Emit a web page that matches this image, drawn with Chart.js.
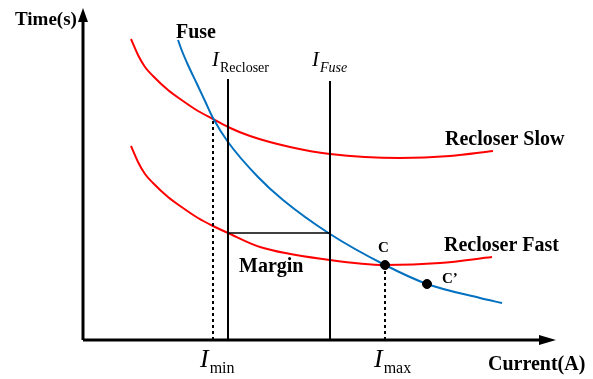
<!DOCTYPE html>
<html>
<head>
<meta charset="utf-8">
<script src="https://cdn.jsdelivr.net/npm/chart.js@4/dist/chart.umd.min.js"></script>
<style>
  html, body { margin: 0; padding: 0; background: #fff; }
  #wrap { width: 593px; height: 379px; }
</style>
</head>
<body>
<div id="wrap"><canvas id="tcc"></canvas></div>
<script>
// curve points (current, time), arbitrary units
var fuseCurve = [[95,300],[99,289],[105,275],[114,256],[122,239],[130,222],[145,198],[175,163],[200,140],[247,106],[302,75],[344,56],[397,42],[419,37]];
var slowCurve = [[48,301],[55,285],[62,273],[70,264],[85,250],[100,239],[115,229],[130,221],[145,213],[167,204],[207,193],[247,186],[317,182],[367,184],[410,189]];
var fastCurve = [[48,194],[55,178],[62,166],[70,157],[85,143],[100,132],[115,122],[130,114],[145,107],[177,93],[247,80],[302,75],[357,77],[409,83]];

// settings on the current axis
var iMin = 130, iRecloser = 145, iFuse = 247, iMax = 302;
var marginTime = 107;
var pointC = [302,75], pointC2 = [344,56];
var xAxisEnd = 473, yAxisEnd = 332;

function pts(arr){
    return arr.map(function(p){ return {x: p[0], y: p[1]}; });
}

var serif = "'Liberation Serif', 'Times New Roman', serif";

var labels = [
    {text: 'Time(s)', x: -68, y: 315, font: 'bold 19px ' + serif},
    {text: 'Fuse', x: 93, y: 302, font: 'bold 20px ' + serif},
    {text: 'Recloser Slow', x: 362, y: 195, font: 'bold 20px ' + serif},
    {text: 'Recloser Fast', x: 361, y: 89, font: 'bold 20px ' + serif},
    {text: 'Margin', x: 156, y: 68, font: 'bold 20px ' + serif},
    {text: 'C', x: 295, y: 88, font: 'bold 15px ' + serif},
    {text: 'C\u2019', x: 359, y: 57, font: 'bold 15px ' + serif},
    {text: 'Current(A)', x: 405, y: -30, font: 'bold 20px ' + serif}
];
var subLabels = [
    {main: 'I', sub: 'Recloser', x: 129, y: 274, mainFont: 'italic 21px ' + serif, subFont: '14px ' + serif},
    {main: 'I', sub: 'Fuse', x: 229, y: 274, mainFont: 'italic 21px ' + serif, subFont: 'italic 14px ' + serif},
    {main: 'I', sub: 'min', x: 117, y: -27, mainFont: 'italic 26px ' + serif, subFont: '16px ' + serif},
    {main: 'I', sub: 'max', x: 291, y: -27, mainFont: 'italic 26px ' + serif, subFont: '16px ' + serif}
];

var textPlugin = {
    id: 'textPlugin',
    afterDatasetsDraw: function(chart){
        var ctx = chart.ctx;
        var xs = chart.scales.x, ys = chart.scales.y;
        ctx.save();
        ctx.fillStyle = '#000';
        // arrow heads
        var ox = xs.getPixelForValue(0), oy = ys.getPixelForValue(0);
        var tx = xs.getPixelForValue(xAxisEnd);
        ctx.beginPath();
        ctx.moveTo(tx, oy);
        ctx.lineTo(tx - 17, oy - 5);
        ctx.lineTo(tx - 17, oy + 5);
        ctx.closePath();
        ctx.fill();
        var ty = ys.getPixelForValue(yAxisEnd);
        ctx.beginPath();
        ctx.moveTo(ox, ty);
        ctx.lineTo(ox - 5, ty + 14);
        ctx.lineTo(ox + 5, ty + 14);
        ctx.closePath();
        ctx.fill();

        ctx.textBaseline = 'alphabetic';
        ctx.textAlign = 'left';
        labels.forEach(function(l){
            ctx.font = l.font;
            ctx.fillText(l.text, xs.getPixelForValue(l.x), ys.getPixelForValue(l.y));
        });
        subLabels.forEach(function(l){
            var px = xs.getPixelForValue(l.x), py = ys.getPixelForValue(l.y);
            ctx.font = l.mainFont;
            ctx.fillText(l.main, px, py);
            var w = ctx.measureText(l.main).width;
            ctx.font = l.subFont;
            ctx.fillText(l.sub, px + w + 1, py + 6);
        });
        ctx.restore();
    }
};

function lineSet(data, color, width, dash){
    return {
        data: data,
        borderColor: color,
        borderWidth: width,
        borderDash: dash || [],
        pointRadius: 0,
        showLine: true,
        fill: false,
        clip: false
    };
}

var canvas = document.getElementById('tcc').getContext('2d');
var chart = new Chart(canvas, {
    type: 'scatter',
    data: {
        datasets: [
            // marked points
            {data: [{x: pointC[0], y: pointC[1]}, {x: pointC2[0], y: pointC2[1]}], backgroundColor: '#000', borderColor: '#000', pointRadius: 4.5, showLine: false, clip: false},
            lineSet([{x: 0, y: 0}, {x: xAxisEnd - 10, y: 0}], '#000', 3),
            lineSet([{x: 0, y: 0}, {x: 0, y: yAxisEnd - 10}], '#000', 3),
            lineSet([{x: iRecloser, y: 0}, {x: iRecloser, y: 261}], '#000', 2),
            lineSet([{x: iFuse, y: 0}, {x: iFuse, y: 259}], '#000', 2),
            lineSet([{x: iRecloser, y: marginTime}, {x: iFuse, y: marginTime}], '#000', 1.5),
            lineSet([{x: iMin, y: 0}, {x: iMin, y: 221}], '#000', 2, [3, 3]),
            lineSet([{x: iMax, y: 0}, {x: iMax, y: pointC[1]}], '#000', 2, [3, 3]),
            Object.assign(lineSet(pts(fuseCurve), '#0070c0', 2), {cubicInterpolationMode: 'monotone'}),
            Object.assign(lineSet(pts(slowCurve), '#ff0000', 2), {cubicInterpolationMode: 'monotone'}),
            Object.assign(lineSet(pts(fastCurve), '#ff0000', 2), {cubicInterpolationMode: 'monotone'})
        ]
    },
    options: {
        responsive: true,
        maintainAspectRatio: false,
        animation: false,
        layout: { padding: {left: 83, right: 30, top: 8, bottom: 39} },
        plugins: { legend: {display: false}, tooltip: {enabled: false} },
        scales: {
            x: { type: 'linear', min: 0, max: 480, display: false },
            y: { type: 'linear', min: 0, max: 332, display: false }
        }
    },
    plugins: [textPlugin]
});
</script>
</body>
</html>
